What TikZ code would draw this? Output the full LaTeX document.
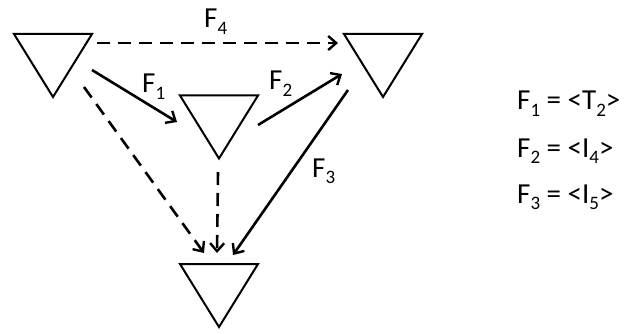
\documentclass[tikz,border=0pt]{standalone}
\usepackage{fontspec}
\setmainfont{Carlito}
\usetikzlibrary{arrows.meta,calc}
\newcommand\mysub[1]{\raisebox{-6.5pt}{\fontsize{19}{20}\selectfont #1}}
\begin{document}
\begin{tikzpicture}[x=1pt,y=-1pt,
  tri/.style={minimum width=82pt, minimum height=67pt, inner sep=0pt,
    path picture={\draw[line width=2pt, line join=miter]
      ([shift={(2,2)}]path picture bounding box.north west) --
      ([shift={(-2,2)}]path picture bounding box.north east) --
      ([shift={(0,-2)}]path picture bounding box.south) -- cycle;}},
  conn/.style={line width=2.6pt, -{Straight Barb[length=8pt,width=14pt,line width=2.4pt]}},
  dconn/.style={conn, dash pattern=on 13pt off 8pt},
  lbl/.style={anchor=base west, inner sep=0pt, font=\fontsize{29}{34}\selectfont}
]
\useasboundingbox (0,0) rectangle (631,334);
\node[tri] (A) at (53,65.5) {};
\node[tri] (B) at (383,65.5) {};
\node[tri] (C) at (219,127) {};
\node[tri] (D) at (219,295.5) {};

\draw[dconn] ($(A)+(44,-22.5)$) -- ($(B)+(-45,-22.5)$);
\draw[conn] ($(A)+(39,4.5)$) -- ($(C)+(-42,-5)$);
\draw[conn] ($(C)+(39,-2)$) -- ($(B)+(-41,8.5)$);
\draw[conn] ($(B)+(-35,24.5)$) -- ($(D)+(14,-40.5)$);
\draw[dconn] ($(A)+(31,21.5)$) -- ($(D)+(-15,-42.5)$);
\draw[dconn] ($(C)+(-1,45)$) -- ($(D)+(-2,-42.5)$);

\node[lbl] (l4) at (204,28) {F\mysub{4}};
\node[lbl] (l1) at (142,93) {F\mysub{1}};
\node[lbl] (l2) at (269,90) {F\mysub{2}};
\node[lbl] (l3) at (312,177) {F\mysub{3}};

\node[lbl] (e1) at (517,110) {F\mysub{1} = <T\mysub{2}>};
\node[lbl] (e2) at (517,157) {F\mysub{2} = <I\mysub{4}>};
\node[lbl] (e3) at (517,203) {F\mysub{3} = <I\mysub{5}>};
\end{tikzpicture}
\end{document}
